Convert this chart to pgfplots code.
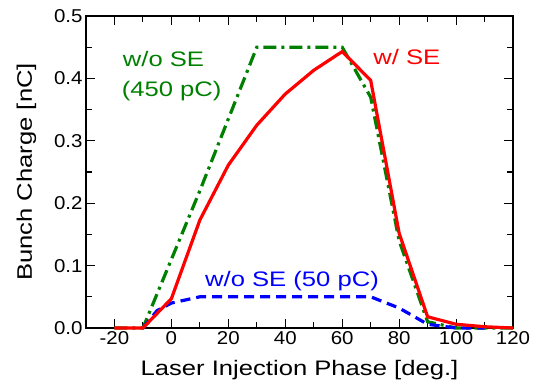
\documentclass[border=0pt]{standalone}
\usepackage{pgfplots}
\pgfplotsset{compat=1.18}
\usepackage{fontspec}
\setmainfont{Liberation Sans}
\newfontfamily\tickfont[FakeStretch=1.1]{Liberation Sans}
\newfontfamily\labfont[FakeStretch=1.22]{Liberation Sans}
\definecolor{sered}{RGB}{255,0,0}
\definecolor{segreen}{RGB}{0,128,0}
\definecolor{seblue}{RGB}{0,0,255}
\begin{document}
\begin{tikzpicture}
\useasboundingbox (-86pt,-63pt) rectangle (453pt,328pt);
\begin{axis}[
  at={(0,0)}, anchor=south west,
  scale only axis, width=427pt, height=312pt,
  xmin=-30, xmax=120, ymin=0, ymax=0.5,
  xtick={-20,0,20,40,60,80,100,120}, ytick={0,0.1,0.2,0.3,0.4,0.5},
  major tick length=0pt,
  tick style={draw=none},
  axis line style={line width=1.3pt},
  /pgf/number format/assume math mode=true,
  yticklabel style={/pgf/number format/fixed, /pgf/number format/fixed zerofill, /pgf/number format/precision=1},
  ticklabel style={font=\tickfont\fontsize{18.6}{22}\selectfont},
  label style={font=\labfont\fontsize{21}{24}\selectfont},
  xlabel={Laser Injection Phase [deg.]},
  ylabel={Bunch Charge [nC]},
  xlabel style={yshift=-9pt},
  ylabel style={yshift=11pt},
  clip=false,
]
\pgfplotsinvokeforeach{-20,0,20,40,60,80,100,120}{
  \draw[black, line width=1.1pt] (axis cs:#1,0) -- (axis cs:#1,0.0144);
  \draw[black, line width=1.1pt] (axis cs:#1,0.5) -- (axis cs:#1,0.4856);
}
\pgfplotsinvokeforeach{-10,10,30,50,70,90,110}{
  \draw[black, line width=1.1pt] (axis cs:#1,0) -- (axis cs:#1,0.0096);
  \draw[black, line width=1.1pt] (axis cs:#1,0.5) -- (axis cs:#1,0.4904);
}
\pgfplotsinvokeforeach{0.1,0.2,0.3,0.4}{
  \draw[black, line width=1.1pt] (axis cs:-30,#1) -- (axis cs:-26.84,#1);
  \draw[black, line width=1.1pt] (axis cs:120,#1) -- (axis cs:116.84,#1);
}
\pgfplotsinvokeforeach{0.05,0.15,0.25,0.35,0.45}{
  \draw[black, line width=1.1pt] (axis cs:-30,#1) -- (axis cs:-27.89,#1);
  \draw[black, line width=1.1pt] (axis cs:120,#1) -- (axis cs:117.89,#1);
}
\addplot[segreen, line width=3.2pt, dash pattern=on 13pt off 5pt on 3pt off 5pt] coordinates {
(-20,0) (-10,0) (0,0.11) (10,0.22) (20,0.335) (30,0.45) (40,0.45) (50,0.45) (60,0.45) (70,0.37) (80,0.14) (90,0.01) (100,0) (110,0) (120,0)};
\addplot[seblue, line width=3.2pt, dash pattern=on 10pt off 6pt] coordinates {
(-10,0) (-5,0.028) (0,0.04) (10,0.05) (20,0.05) (30,0.05) (40,0.05) (50,0.05) (60,0.05) (70,0.05) (80,0.032) (90,0.006) (100,0) (110,0)};
\addplot[sered, line width=3.2pt] coordinates {
(-20,0) (-10,0) (0,0.047) (10,0.173) (20,0.261) (30,0.325) (40,0.375) (50,0.413) (60,0.443) (70,0.397) (80,0.152) (90,0.018) (100,0.006) (110,0.002) (120,0)};
\node[segreen, anchor=base west, font=\labfont\fontsize{21}{24}\selectfont, inner sep=0pt] at (axis cs:-17.1,0.419) {w/o SE};
\node[segreen, anchor=base west, font=\labfont\fontsize{21}{24}\selectfont, inner sep=0pt] at (axis cs:-17.5,0.371) {(450 pC)};
\node[sered, anchor=base west, font=\labfont\fontsize{21}{24}\selectfont, inner sep=0pt] at (axis cs:70.9,0.4215) {w/ SE};
\node[seblue, anchor=base west, font=\labfont\fontsize{21}{24}\selectfont, inner sep=0pt] at (axis cs:11.8,0.066) {w/o SE (50 pC)};
\end{axis}
\end{tikzpicture}
\end{document}
